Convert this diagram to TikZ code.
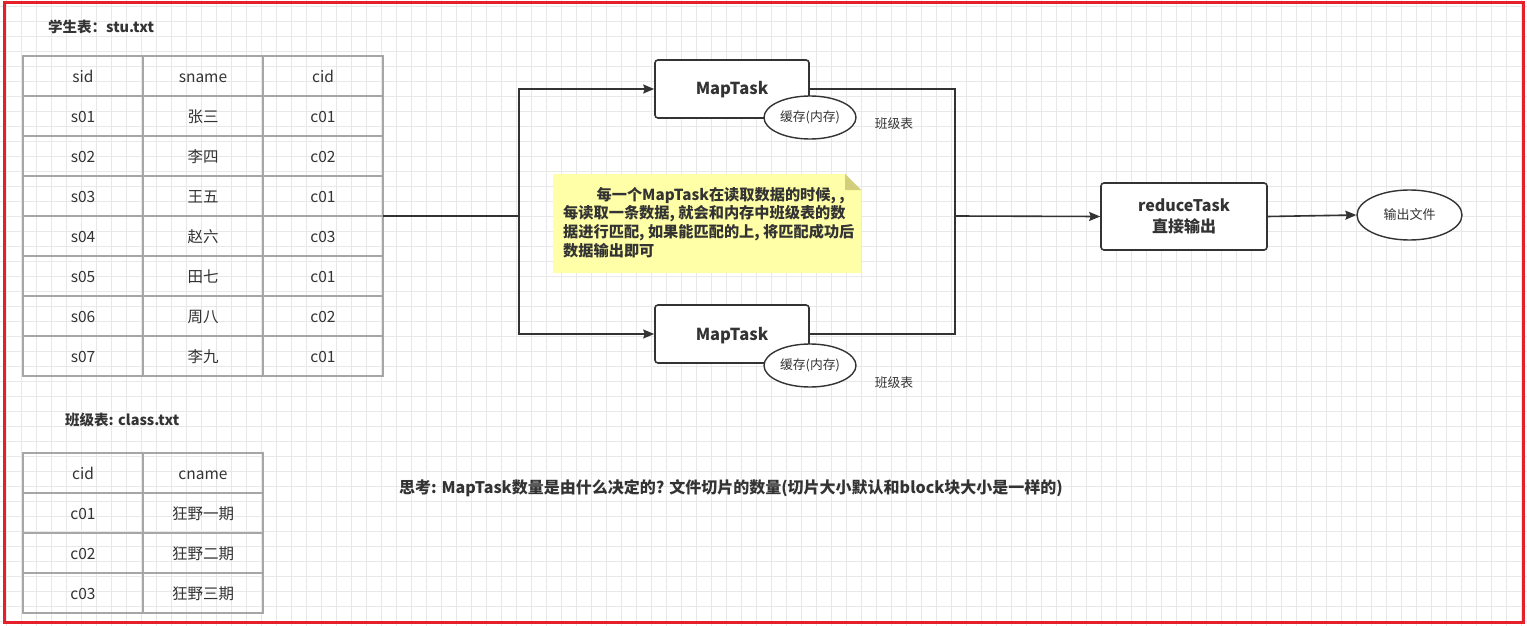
\documentclass[tikz,border=0pt]{standalone}
\usepackage{fontspec}
\setmainfont{Noto Sans CJK SC}
\usetikzlibrary{arrows.meta,shapes.geometric}
\definecolor{ink}{HTML}{333333}
\definecolor{tline}{HTML}{A6A6A6}
\definecolor{gridc}{HTML}{E8E8E8}
\definecolor{redb}{HTML}{E5202A}
\definecolor{notey}{HTML}{FFFFA8}
\definecolor{notef}{HTML}{D3CE7C}
\newcommand\fs[2]{\fontsize{#1}{#2}\selectfont}
\begin{document}
\begin{tikzpicture}[x=1pt,y=-1pt,
  cell/.style={draw=tline, line width=1.3pt, minimum width=120pt, minimum height=40pt, inner sep=0pt, text height=13.5pt, text depth=0pt, font=\fs{15.5}{18}, text=ink},
  conn/.style={draw=ink, line width=1.6pt},
  arr/.style={conn, -{Stealth[length=11pt,width=9pt,inset=1.5pt]}},
  taskbox/.style={draw=ink, line width=1.6pt, rounded corners=3pt, fill=white, text=ink, inner sep=0pt, align=center},
  cache/.style={ellipse, draw=ink, line width=1.4pt, fill=white, minimum width=92pt, minimum height=43pt, inner sep=0pt, font=\fs{12.8}{14}, text=ink},
  lbl/.style={text=ink, inner sep=0pt}
]
\useasboundingbox (0,0) rectangle (1527,626);
\fill[white] (0,0) rectangle (1527,626);
% grid
\foreach \i in {0,...,101} \draw[gridc, line width=0.8pt] ({6.7+15*\i},0) -- ({6.7+15*\i},626);
\foreach \j in {0,...,41} \draw[gridc, line width=0.8pt] (0,{6.7+15*\j}) -- (1527,{6.7+15*\j});
% red frame
\draw[redb, line width=2.6pt] (4.3,2.3) rectangle (1523.3,622.2);

% student table
\node[lbl, anchor=west, font=\fs{14.5}{16}\bfseries] (stutitle) at (48,27) {学生表：stu.txt};
\foreach \a/\b/\c [count=\i from 0] in {sid/sname/cid, s01/张三/c01, s02/李四/c02, s03/王五/c01, s04/赵六/c03, s05/田七/c01, s06/周八/c02, s07/李九/c01}{
  \node[cell] (s\i a) at (83,{76+40*\i}) {\a};
  \node[cell] (s\i b) at (203,{76+40*\i}) {\b};
  \node[cell] (s\i c) at (323,{76+40*\i}) {\c};
}
% class table
\node[lbl, anchor=west, font=\fs{14.5}{16}\bfseries] (clstitle) at (65,420) {班级表: class.txt};
\foreach \a/\b [count=\i from 0] in {cid/cname, c01/狂野一期, c02/狂野二期, c03/狂野三期}{
  \node[cell] (c\i a) at (83,{473+40*\i}) {\a};
  \node[cell] (c\i b) at (203,{473+40*\i}) {\b};
}

% tasks
\node[taskbox, minimum width=154pt, minimum height=58pt, text height=12pt, text depth=0pt, font=\fs{16.5}{20}\bfseries] (map1) at (732,89) {MapTask};
\node[taskbox, minimum width=154pt, minimum height=58pt, text height=12pt, text depth=0pt, font=\fs{16.5}{20}\bfseries] (map2) at (732,334) {MapTask};
\node[cache] (cache1) at (810,117.5) {缓存(内存)};
\node[cache] (cache2) at (810,365.5) {缓存(内存)};
\node[lbl, font=\fs{12.8}{14}] (cls1) at (894,124) {班级表};
\node[lbl, font=\fs{12.8}{14}] (cls2) at (894,383) {班级表};
\node[taskbox, minimum width=166pt, minimum height=67pt, font=\fs{16}{21}\bfseries] (reduce) at (1184,216.5) {reduceTask\\直接输出};
\node[ellipse, draw=ink, line width=1.4pt, fill=white, minimum width=105pt, minimum height=50pt, inner sep=0pt, font=\fs{13}{15}, text=ink] (out) at (1409.5,215) {输出文件};

% connectors
\coordinate (stuR) at (383,216);
\coordinate (jL) at (519,216);
\coordinate (jR) at (955,216);
\draw[conn] (stuR) -- (jL);
\draw[arr] (jL) |- (map1.west);
\draw[arr] (jL) |- (map2.west);
\draw[conn] (map1.east) -| (jR);
\draw[conn] (map2.east) -| (jR);
\draw[arr] (jR) -- (reduce.west);
\draw[arr] (reduce.east) -- (out.west);

% note
\fill[notey] (553,174) -- (845,174) -- (861,190) -- (861,273) -- (553,273) -- cycle;
\fill[notef] (845,174) -- (845,190) -- (861,190) -- cycle;
\node[lbl, anchor=north west, align=left, font=\fs{15.2}{18.6}\bfseries] (note) at (563,187)
  {\hspace*{2.2em}每一个MapTask在读取数据的时候, ,\\每读取一条数据, 就会和内存中班级表的数\\据进行匹配, 如果能匹配的上, 将匹配成功后\\数据输出即可};

% question
\node[lbl, font=\fs{16}{19}\bfseries] (question) at (731,488) {思考: MapTask数量是由什么决定的? 文件切片的数量(切片大小默认和block块大小是一样的)};
\end{tikzpicture}
\end{document}
